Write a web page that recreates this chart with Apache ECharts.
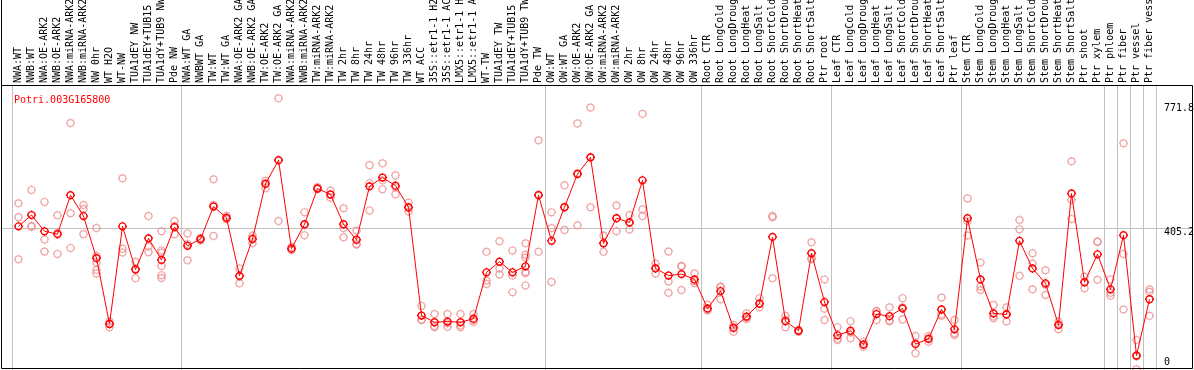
<!DOCTYPE html>
<html>
<head>
<meta charset="utf-8">
<script src="https://cdn.jsdelivr.net/npm/echarts@6/dist/echarts.min.js"></script>
<style>
html,body{margin:0;padding:0;background:#fff;}
#chart{width:1194px;height:370px;}
</style>
</head>
<body>
<div id="chart"></div>
<script>
const TITLE = 'Potri.003G165800';

const categories = [
  'NWA:WT','NWB:WT','NWA:OE-ARK2','NWB:OE-ARK2','NWA:miRNA-ARK2','NWB:miRNA-ARK2','NW 0hr','WT H2O','WT-NW',
  'TUA1dEY NW','TUA1dEY+TUB15 NW','TUA1dY+TUB9 NW','Pde NW',
  'NWA:WT GA','NWBWT GA','TW:WT','TW:WT GA','NWA:OE-ARK2 GA','NWB:OE-ARK2 GA','TW:OE-ARK2','TW:OE-ARK2 GA',
  'NWA:miRNA-ARK2 GA','NWB:miRNA-ARK2 GA','TW:miRNA-ARK2','TW:miRNA-ARK2 GA',
  'TW 2hr','TW 8hr','TW 24hr','TW 48hr','TW 96hr','TW 336hr','WT ACC',
  '35S::etr1-1 H2O','35S::etr1-1 ACC','LMX5::etr1-1 H2O','LMX5::etr1-1 ACC','WT-TW',
  'TUA1dEY TW','TUA1dEY+TUB15 TW','TUA1dY+TUB9 TW','Pde TW',
  'OW:WT','OW:WT GA','OW:OE-ARK2','OW:OE-ARK2 GA','OW:miRNA-ARK2','OW:miRNA-ARK2 GA',
  'OW 2hr','OW 8hr','OW 24hr','OW 48hr','OW 96hr','OW 336hr',
  'Root CTR','Root LongCold','Root LongDrought','Root LongHeat','Root LongSalt','Root ShortCold','Root ShortDrought','Root ShortHeat','Root ShortSalt','Ptr root',
  'Leaf CTR','Leaf LongCold','Leaf LongDrought','Leaf LongHeat','Leaf LongSalt','Leaf ShortCold','Leaf ShortDrought','Leaf ShortHeat','Leaf ShortSalt','Ptr leaf',
  'Stem CTR','Stem LongCold','Stem LongDrought','Stem LongHeat','Stem LongSalt','Stem ShortCold','Stem ShortDrought','Stem ShortHeat','Stem ShortSalt','Ptr shoot',
  'Ptr xylem','Ptr phloem','Ptr fiber','Ptr vessel','Ptr fiber vessel'
];

// mean expression per sample (line)
const means = [
  410,442,396,388,498,439,320,134,410,288,376,315,408,
  355,374,466,434,270,374,530,597,347,416,517,500,
  416,372,523,548,525,464,158,139,141,139,149,280,310,280,297,498,
  369,464,558,605,362,433,421,540,291,271,275,260,
  178,227,123,155,192,380,142,115,334,196,
  102,115,76,162,156,178,77,92,175,119,
  433,260,164,161,369,291,249,131,503,252,
  331,232,385,45,204
];

// replicate values per sample (open light circles)
const replicates = [
  [475,436,317],[513,411,409],[479,373,339],[441,392,332],[702,447,349],[470,459,388],
  [405,326,307,287,277],[141,135,125],[546,347,336],[310,290,263],[439,353,337],
  [396,342,336,298,272,264],[425,410,388],
  [390,360,314],[378,374,370],[543,470,383],[440,434,430],[291,269,249],[384,376,362],
  [539,532,518],[771.8,597,425],[352,347,343],[450,414,385],[521,517,515],[511,500,491],
  [461,405,379],[398,360,359],[583,532,455],[588,540,515],[554,520,501],[477,462,452],
  [185,146,145],[162,128,125],[162,136,126],[162,130,125],[162,145,140],[338,257,247],
  [368,291,274],[342,271,224],[362,330,322,281,278,243],[653,500,338],
  [450,405,253],[526,465,400],[701,560,413],[746,605,464],[384,363,338],[469,433,396],
  [442,421,401],[728,458,439],[305,292,277],[339,254,222],[298,297,230],[277,255,249],
  [188,176,172],[240,238,204],[131,125,112],[164,152,148],[207,190,181],[439,436,263],
  [157,146,125],[118,115,112],[365,320,317],[260,177,145],
  [125,92,89],[142,110,94],[84,76,70],[171,170,145],[181,144,142],[207,181,147],
  [100,81,51],[100,93,84],[209,161,157],[145,108,103],
  [489,425,384],[308,240,230],[188,155,150],[181,163,141],[428,402,270],[334,305,232],
  [286,245,216],[141,134,119],[594,485,431],[268,252,235],
  [367,366,259],[260,222,214],[645,332,175],[89,42,6],[232,225,157]
];

// y tick labels shown at the right
const yTicks = [0, 405.2, 771.8];
const yMax = 809.5;

// sample-group boundaries (index of first category of each group)
const groupStarts = [0, 13, 41, 53, 63, 73, 84, 85, 86, 87];

const FONT = '"DejaVu Sans Mono", monospace';
const GRAY = '#c0c0c0';
const MARK = 'path://M-3.5,0A3.5,3.5,0,1,1,3.5,0A3.5,3.5,0,1,1,-3.5,0M0,-3.5L0,-4.6M0,3.5L0,4.6M-3.5,0L-4.6,0M3.5,0L4.6,0';

const repData = [];
replicates.forEach((arr, i) => arr.forEach(v => repData.push([i, v])));

const sepFn = function (idx) { return groupStarts.indexOf(idx) >= 0; };

const chart = echarts.init(document.getElementById('chart'), null, {renderer: 'canvas'});
chart.setOption({
  animation: false,
  backgroundColor: '#ffffff',
  title: {
    text: TITLE, left: 9, top: 90,
    textStyle: {color: '#ff0000', fontFamily: FONT, fontSize: 10, fontWeight: 'normal'}
  },
  grid: [
    {left: 1, right: 2, top: 85, bottom: -1.4, containLabel: false, outerBoundsMode: 'none'},
    {left: 12, right: 38, top: 85, bottom: -1.4, containLabel: false, outerBoundsMode: 'none'}
  ],
  xAxis: [
    {gridIndex: 0, type: 'value', min: 0, max: 1, show: false},
    {
      gridIndex: 1, type: 'category', position: 'top', data: categories, boundaryGap: true,
      axisLine: {show: false},
      axisTick: {show: true, length: 85, interval: sepFn, lineStyle: {color: GRAY, width: 1}},
      splitLine: {show: true, interval: sepFn, lineStyle: {color: GRAY, width: 1}},
      axisLabel: {interval: 0, rotate: 90, margin: 2, fontFamily: FONT, fontSize: 10, color: '#000'}
    }
  ],
  yAxis: [
    {
      gridIndex: 0, type: 'value', min: 0, max: yMax, interval: 405.2,
      axisLine: {show: false}, axisTick: {show: false}, axisLabel: {show: false},
      splitLine: {show: true, lineStyle: {color: GRAY, width: 1}}
    },
    {
      gridIndex: 1, type: 'value', position: 'right', min: 0, max: yMax,
      axisLine: {show: false}, axisTick: {show: false}, splitLine: {show: false},
      axisLabel: {
        customValues: yTicks, margin: 8, fontFamily: FONT, fontSize: 10, color: '#000',
        formatter: function (v) {
          if (v === 0) return '{c|0}';
          if (v === 405.2) return '{b|405.2}';
          return '{a|' + v + '}';
        },
        rich: {
          a: {padding: [20, 0, 0, 0], fontFamily: FONT, fontSize: 10, color: '#000'},
          b: {padding: [9, 0, 0, 0], fontFamily: FONT, fontSize: 10, color: '#000'},
          c: {padding: [0, 0, 18, 0], fontFamily: FONT, fontSize: 10, color: '#000'}
        }
      }
    }
  ],
  series: [
    {
      type: 'scatter', xAxisIndex: 1, yAxisIndex: 1, data: repData,
      symbol: MARK, symbolSize: 9, z: 2,
      itemStyle: {color: 'rgba(0,0,0,0)', borderColor: '#ee8e8e', borderWidth: 1.2}
    },
    {
      type: 'line', xAxisIndex: 1, yAxisIndex: 1, data: means,
      symbol: MARK, symbolSize: 9, showAllSymbol: true, z: 3,
      lineStyle: {color: '#ff0000', width: 1},
      itemStyle: {color: 'rgba(0,0,0,0)', borderColor: '#ff0000', borderWidth: 1.4}
    }
  ],
  graphic: [
    {type: 'rect', silent: true, z: 100,
     shape: {x: 1.5, y: 85.5, width: 1191, height: 283},
     style: {fill: null, stroke: '#000', lineWidth: 1}},
    {type: 'line', silent: true, z: 100,
     shape: {x1: 1.5, y1: 0, x2: 1.5, y2: 85},
     style: {stroke: '#000', lineWidth: 1}}
  ]
});
</script>
</body>
</html>
